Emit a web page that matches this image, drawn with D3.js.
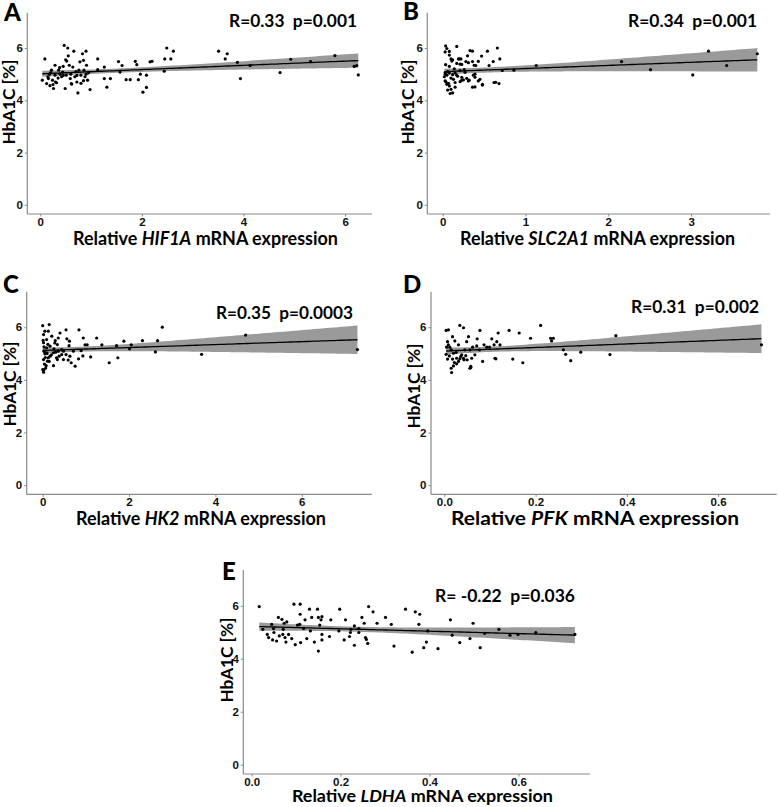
<!DOCTYPE html>
<html><head><meta charset="utf-8">
<script src="https://cdn.jsdelivr.net/npm/d3@7"></script>
<style>
body{margin:0;background:#fff;}
svg{display:block;}
text.pre{white-space:pre;}
</style></head>
<body>
<svg id="chart" width="778" height="807"></svg>
<script>
// ---------- DATA (x = relative mRNA expression, y = HbA1C %) ----------
const hif1a = [[0.04,4.77],[0.09,5.58],[0.125,4.64],[0.16,4.83],[0.18,5.0],[0.19,4.56],[0.22,5.15],[0.24,4.77],[0.26,4.45],[0.29,5.34],[0.29,4.96],[0.32,4.67],[0.36,5.15],[0.39,5.0],[0.42,4.9],[0.44,5.08],[0.45,5.3],[0.47,6.1],[0.49,4.45],[0.51,4.96],[0.52,5.5],[0.54,6.0],[0.55,5.7],[0.57,5.34],[0.59,4.83],[0.61,4.64],[0.64,5.27],[0.66,5.88],[0.68,4.9],[0.72,4.7],[0.74,4.28],[0.76,5.15],[0.78,5.47],[0.80,4.96],[0.83,5.78],[0.85,5.53],[0.86,5.15],[0.88,4.9],[0.90,5.88],[0.91,5.34],[0.93,4.77],[0.95,5.05],[0.98,4.41],[1.13,5.58],[1.13,5.17],[1.26,5.27],[1.26,4.83],[1.31,4.5],[1.38,4.83],[1.54,5.48],[1.57,5.08],[1.61,5.33],[1.69,4.79],[1.77,4.79],[1.87,5.49],[1.9,5.36],[1.93,4.79],[1.97,5.0],[2.02,4.31],[2.09,4.96],[2.09,4.49],[2.16,5.47],[2.2,5.49],[2.44,5.11],[2.45,5.58],[2.49,6.0],[2.57,5.58],[2.62,5.88],[3.51,5.88],[3.64,5.58],[3.68,5.78],[3.88,5.45],[3.94,4.83],[4.13,5.33],[4.72,5.06],[4.93,5.57],[5.32,5.48],[5.8,5.71],[6.18,5.3],[6.23,5.33],[6.26,4.97],[0.2,5.05],[0.3,4.7],[0.35,4.85],[0.6,5.0],[0.7,5.1],[0.45,4.95],[0.8,4.65],[0.15,4.9],[0.62,4.62],[0.9,5.0],[0.38,5.25],[0.5,5.55],[0.25,4.6],[0.85,4.75],[0.72,4.95]];

const slc2a1 = [[0.86,5.15],[1.13,5.33],[2.16,5.48],[2.51,5.17],[3.02,4.97],[3.21,5.88],[3.43,5.33],[3.80,5.78],[0.72,5.14],[0.68,4.64],[0.64,4.69],[0.66,6.0],[0.69,5.58],[0.54,5.88],[0.61,5.48],[0.56,5.33],[0.47,5.69],[0.48,4.61],[0.45,4.8],[0.36,5.88],[0.36,5.48],[0.39,4.51],[0.32,4.77],[0.39,5.0],[0.40,5.33],[0.28,5.48],[0.26,5.17],[0.23,4.77],[0.17,6.06],[0.19,5.58],[0.22,5.58],[0.21,5.38],[0.036,6.08],[0.05,5.98],[0.03,5.85],[0.08,5.87],[0.33,5.9],[0.08,5.73],[0.1,5.58],[0.12,5.55],[0.2,5.58],[0.3,5.7],[0.036,5.36],[0.08,5.3],[0.17,5.41],[0.23,5.37],[0.31,5.44],[0.43,5.49],[0.38,5.34],[0.03,5.06],[0.03,5.0],[0.05,4.96],[0.08,5.04],[0.12,4.98],[0.15,5.04],[0.17,4.96],[0.21,5.14],[0.27,5.07],[0.23,4.88],[0.29,4.84],[0.37,4.96],[0.39,4.88],[0.31,4.74],[0.25,4.78],[0.43,4.74],[0.48,4.58],[0.62,4.68],[0.36,4.5],[0.03,4.74],[0.05,4.61],[0.08,4.55],[0.1,4.42],[0.06,4.39],[0.09,4.26],[0.12,4.28],[0.15,4.5],[0.15,4.68],[0.21,4.71],[0.02,4.9],[0.06,5.1],[0.1,4.85],[0.14,5.2],[0.04,4.7],[0.18,4.92],[0.07,4.65],[0.11,5.5],[0.13,4.8]];

const hk2 = [[7.29,5.15],[4.70,5.7],[3.68,4.97],[2.77,6.0],[2.66,5.49],[2.61,5.06],[2.31,5.49],[2.05,5.33],[2.01,5.18],[1.88,5.47],[1.74,4.84],[1.71,5.3],[1.54,4.65],[1.37,5.33],[1.25,5.59],[1.11,4.87],[1.03,5.33],[0.98,5.33],[0.94,5.59],[0.93,4.91],[0.84,5.9],[0.89,5.11],[0.83,4.8],[0.75,4.52],[0.71,5.09],[0.66,4.65],[0.62,5.47],[0.61,5.3],[0.56,5.56],[0.54,5.9],[0.54,4.96],[0.59,4.75],[0.48,4.77],[0.44,4.96],[0.40,5.78],[0.36,5.59],[0.34,5.34],[0.32,4.84],[0.29,5.49],[0.26,5.18],[0.25,4.54],[0.21,5.66],[0.17,4.9],[0.15,6.1],[0.13,5.85],[0.09,5.22],[0.11,4.71],[0.05,4.99],[0.03,4.39],[0.0,6.06],[0.02,5.41],[0.02,4.77],[0.0,4.39],[0.02,4.29],[0.08,4.54],[0.05,5.85],[0.02,5.72],[0.09,5.53],[0.13,4.84],[0.03,5.09],[0.09,5.03],[0.25,5.03],[0.36,5.09],[0.44,5.15],[0.17,5.28],[0.34,4.77],[0.48,5.09],[0.63,4.9],[0.01,5.5],[0.04,4.6],[0.06,4.85],[0.1,5.0],[0.03,5.25],[0.07,4.45],[0.12,5.35],[0.2,4.95],[0.28,5.4],[0.15,4.7],[0.3,5.05],[0.38,4.9]];

const pfk = [[0.695,5.33],[0.376,5.68],[0.363,4.96],[0.299,5.05],[0.277,4.73],[0.266,4.97],[0.261,5.14],[0.239,5.58],[0.233,5.58],[0.235,5.48],[0.211,6.07],[0.189,5.58],[0.172,4.65],[0.164,5.78],[0.15,4.79],[0.142,5.88],[0.122,5.33],[0.118,5.78],[0.115,5.45],[0.113,4.8],[0.109,5.33],[0.104,5.56],[0.099,5.24],[0.093,5.24],[0.087,5.33],[0.084,4.7],[0.078,5.88],[0.077,5.14],[0.072,5.56],[0.071,5.29],[0.067,4.95],[0.062,5.24],[0.06,4.82],[0.056,5.14],[0.058,4.51],[0.056,4.44],[0.05,4.76],[0.049,5.45],[0.045,5.14],[0.042,5.98],[0.042,4.82],[0.038,4.95],[0.034,6.07],[0.034,4.8],[0.031,5.33],[0.027,4.82],[0.026,5.04],[0.023,5.48],[0.022,4.66],[0.02,4.53],[0.018,5.64],[0.016,4.28],[0.015,4.44],[0.012,5.24],[0.011,4.91],[0.009,5.9],[0.007,5.45],[0.005,5.24],[0.004,4.97],[0.007,4.79],[0.009,5.33],[0.031,4.7],[0.027,4.61],[0.053,5.64],[0.047,4.92],[0.043,4.76],[0.015,5.14],[0.018,4.79],[0.036,4.89],[0.02,5.01],[0.111,4.82],[0.058,4.47],[0.004,5.88]];

const ldha = [[0.017,5.97],[0.025,5.11],[0.035,4.92],[0.038,4.8],[0.045,5.3],[0.047,4.71],[0.049,5.14],[0.05,4.99],[0.056,4.67],[0.06,5.56],[0.062,4.86],[0.068,5.49],[0.07,4.92],[0.071,5.11],[0.073,5.34],[0.075,4.8],[0.077,4.63],[0.079,5.39],[0.083,4.92],[0.09,4.76],[0.095,6.06],[0.098,4.53],[0.103,5.27],[0.108,5.3],[0.109,6.06],[0.109,5.68],[0.11,4.61],[0.117,5.14],[0.12,5.47],[0.124,4.76],[0.13,5.87],[0.132,5.05],[0.135,5.56],[0.141,4.63],[0.148,5.87],[0.15,4.29],[0.15,5.56],[0.153,5.27],[0.156,5.47],[0.158,4.92],[0.158,4.71],[0.158,5.59],[0.175,4.84],[0.178,5.47],[0.198,5.87],[0.196,5.05],[0.208,4.71],[0.211,5.47],[0.22,4.84],[0.222,4.99],[0.223,5.11],[0.231,4.51],[0.231,5.24],[0.241,5.14],[0.241,4.99],[0.248,5.56],[0.253,5.34],[0.256,4.8],[0.258,4.73],[0.261,4.58],[0.263,5.97],[0.273,5.77],[0.282,5.34],[0.301,5.56],[0.314,5.3],[0.32,4.48],[0.346,5.87],[0.361,4.25],[0.368,5.77],[0.378,5.68],[0.376,5.3],[0.387,4.42],[0.393,4.63],[0.396,5.05],[0.419,4.38],[0.447,5.47],[0.451,4.89],[0.468,4.61],[0.491,4.76],[0.498,5.34],[0.514,4.42],[0.524,4.96],[0.556,5.11],[0.581,4.89],[0.599,4.92],[0.639,4.99],[0.727,4.92]];

const genes = ["HIF1A","SLC2A1","HK2","PFK","LDHA"];
const panelLetters = ["A","B","C","D","E"];
const statLabels = ["R=0.33  p=0.001","R=0.34  p=0.001","R=0.35  p=0.0003","R=0.31  p=0.002","R= -0.22  p=0.036"];
const xTicks = [[0,2,4,6],[0,1,2,3],[0,2,4,6],[0,0.2,0.4,0.6],[0,0.2,0.4,0.6]];
const xTickFormats = ["d","d","d",".1f",".1f"];
const yTicks = [0,2,4,6];
const yLabel = "HbA1C [%]";
const T95 = 1.985; // t quantile for ~95 df

// ---------- LAYOUT (pixels) ----------
const layout = [
  {x0:27.3, x1:372,   y0:12.7,  y1:214,   xd:[-0.256,6.53],  letter:[4,21],   stat:[229,357,27],  xt:[205.5,245,265,18.5], yt:[15,102]},
  {x0:427.3,x1:770,   y0:12.7,  y1:214,   xd:[-0.186,3.953], letter:[403,20],  stat:[628,757,27],  xt:[597.5,245,275,18.5], yt:[414,102]},
  {x0:26.7, x1:371.7, y0:291.7, y1:494.3, xd:[-0.371,7.62],  letter:[3,293],   stat:[216,353,319], xt:[201,525,250,18.5],  yt:[15.5,384]},
  {x0:431,  x1:776.7, y0:291.7, y1:494.3, xd:[-0.0292,0.7284],letter:[403,293],stat:[631,759,313], xt:[595,525,288,18.5],  yt:[419.5,386]},
  {x0:243.3,x1:590,   y0:570,   y1:774,   xd:[-0.0189,0.761],letter:[222,580], stat:[435,575,602], xt:[422.4,802,261,17.5], yt:[232.5,660]}
];
const datasets = [hif1a, slc2a1, hk2, pfk, ldha];

const svg = d3.select("#chart");
const AXIS = "#8a8a8a";

function fit(data){
  const n = data.length;
  const mx = d3.mean(data, d=>d[0]), my = d3.mean(data, d=>d[1]);
  const sxx = d3.sum(data, d=>(d[0]-mx)**2);
  const sxy = d3.sum(data, d=>(d[0]-mx)*(d[1]-my));
  const b = sxy/sxx, a = my - b*mx;
  const sse = d3.sum(data, d=>(d[1]-(a+b*d[0]))**2);
  const s = Math.sqrt(sse/(n-2));
  const [lo, hi] = d3.extent(data, d=>d[0]);
  return d3.range(81).map(i=>{
    const x = lo + (hi-lo)*i/80;
    const yh = a + b*x;
    const se = s*Math.sqrt(1/n + (x-mx)**2/sxx);
    return {x, y:yh, lo:yh - T95*se, hi:yh + T95*se};
  });
}

datasets.forEach((data, i)=>{
  const L = layout[i];
  const x = d3.scaleLinear().domain(L.xd).range([L.x0, L.x1]);
  const y = d3.scaleLinear().domain([-0.35, 7.35]).range([L.y1, L.y0]);
  const g = svg.append("g");

  // axes
  const ax = g.append("g").attr("transform",`translate(0,${L.y1})`)
    .call(d3.axisBottom(x).tickValues(xTicks[i]).tickFormat(d3.format(xTickFormats[i])).tickSize(2.5).tickSizeOuter(0).tickPadding(1));
  const ay = g.append("g").attr("transform",`translate(${L.x0},0)`)
    .call(d3.axisLeft(y).tickValues(yTicks).tickFormat(d3.format("d")).tickSize(2.5).tickSizeOuter(0).tickPadding(2));
  [ax, ay].forEach(a=>{
    a.select(".domain").remove();
    a.selectAll(".tick line").attr("stroke", AXIS).attr("stroke-width", 1);
    a.selectAll(".tick text").attr("fill","#111").attr("font-family","Liberation Sans, Arial, sans-serif")
      .attr("font-weight","bold").attr("font-size","11.5px");
  });
  g.append("line").attr("x1",L.x0).attr("x2",L.x0).attr("y1",L.y0).attr("y2",L.y1).attr("stroke",AXIS).attr("stroke-width",1.2);
  g.append("line").attr("x1",L.x0).attr("x2",L.x1).attr("y1",L.y1).attr("y2",L.y1).attr("stroke",AXIS).attr("stroke-width",1.2);

  // regression band + line
  const f = fit(data);
  g.append("path").datum(f)
    .attr("d", d3.area().x(d=>x(d.x)).y0(d=>y(d.lo)).y1(d=>y(d.hi)))
    .attr("fill","#9a9a9a");
  g.append("path").datum(f)
    .attr("d", d3.line().x(d=>x(d.x)).y(d=>y(d.y)))
    .attr("fill","none").attr("stroke","#000").attr("stroke-width",1.3);

  // points
  g.selectAll("circle.pt").data(data).join("circle").attr("class","pt")
    .attr("cx", d=>x(d[0])).attr("cy", d=>y(d[1])).attr("r",1.6).attr("fill","#000");

  // panel letter
  g.append("text").attr("x",L.letter[0]).attr("y",L.letter[1]).text(panelLetters[i])
    .attr("font-family","Lato, sans-serif").attr("font-weight","900").attr("font-size","24px").attr("fill","#000");

  // stats
  g.append("text").attr("class","pre").attr("x",L.stat[0]).attr("y",L.stat[2]).text(statLabels[i])
    .attr("textLength", L.stat[1]-L.stat[0]).attr("lengthAdjust","spacingAndGlyphs")
    .attr("font-family","Lato, sans-serif").attr("font-weight","bold").attr("font-size","16.5px").attr("fill","#000");

  // x title
  const xt = g.append("text").attr("class","pre").attr("x",L.xt[0]).attr("y",L.xt[1]).attr("text-anchor","middle")
    .attr("textLength", L.xt[2]).attr("lengthAdjust","spacingAndGlyphs")
    .attr("font-family","Lato, sans-serif").attr("font-weight","bold").attr("font-size",L.xt[3]+"px").attr("fill","#000");
  xt.append("tspan").text("Relative ");
  xt.append("tspan").attr("font-style","italic").text(genes[i]);
  xt.append("tspan").text(" mRNA expression");

  // y title
  g.append("text").attr("transform",`translate(${L.yt[0]},${L.yt[1]}) rotate(-90)`)
    .attr("text-anchor","middle").attr("textLength",85).attr("lengthAdjust","spacingAndGlyphs")
    .attr("font-family","Lato, sans-serif").attr("font-weight","bold").attr("font-size","17px").attr("fill","#000")
    .text(yLabel);
});
</script>
</body></html>
